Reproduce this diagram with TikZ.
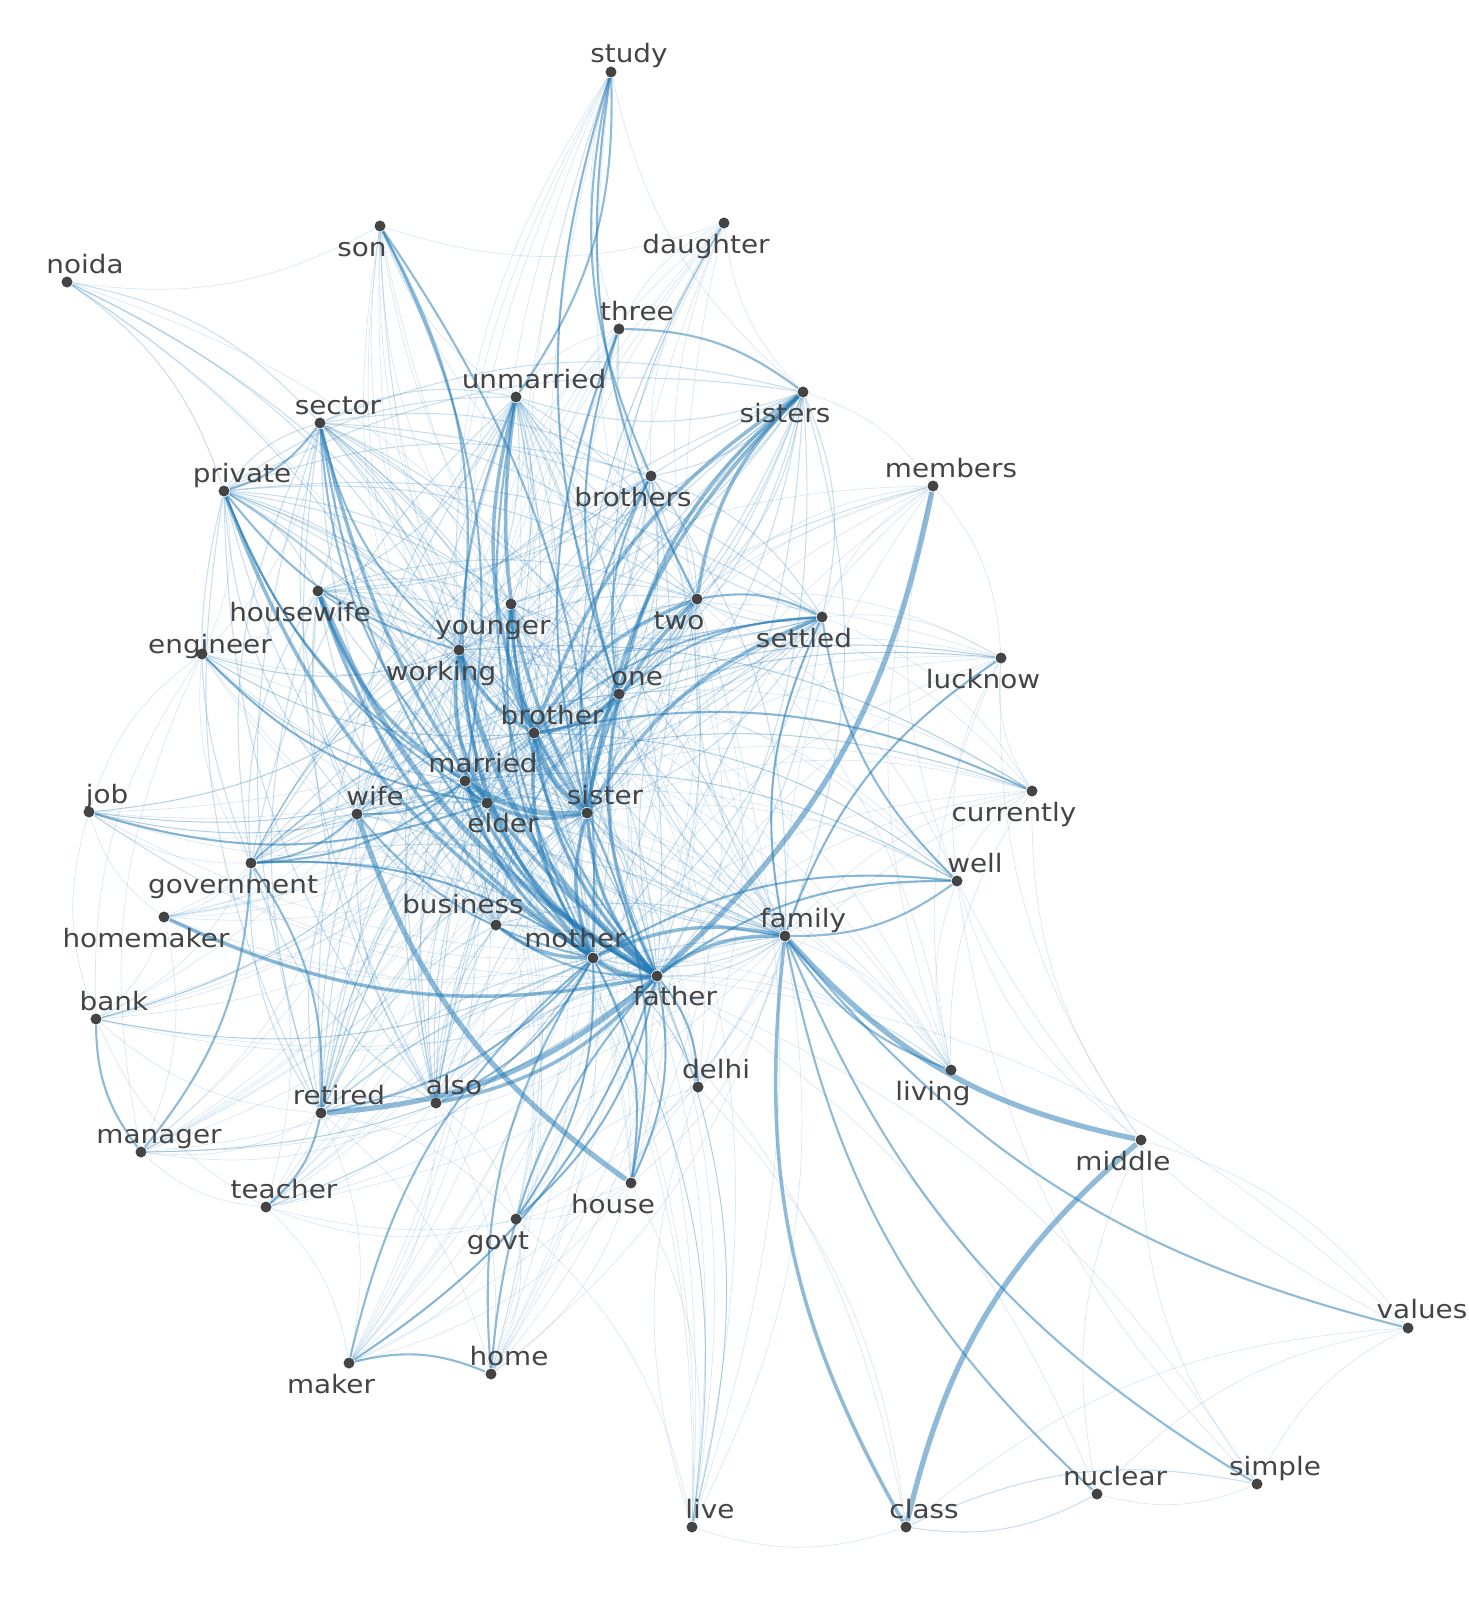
\documentclass[tikz,border=0pt]{standalone}
\usepackage{fontspec}
\newfontfamily\wordfont{DejaVu Sans}[FakeStretch=1.1]
\usepackage{tikz}
\definecolor{edgeblue}{RGB}{31,119,180}
\definecolor{inkgray}{RGB}{68,68,68}
\pgfdeclarelayer{edgelayer}
\pgfdeclarelayer{nodelayer}
\pgfsetlayers{edgelayer,nodelayer,main}
\tikzstyle{word}=[circle,fill=inkgray,draw=none,inner sep=0pt,minimum size=0.11cm]
\tikzstyle{wordlabel}=[inner sep=0pt,anchor=base,text=inkgray,font=\wordfont\fontsize{7.2}{8.6}\selectfont]
\tikzstyle{link}=[draw=edgeblue,bend right=18]
\tikzstyle{hairlink}=[link,line width=0.2pt,opacity=0.17]
\tikzstyle{finelink}=[link,line width=0.3pt,opacity=0.24]
\tikzstyle{midlink}=[link,line width=0.6pt,opacity=0.5]
\tikzstyle{heavylink}=[link,line width=1pt,opacity=0.5]
\tikzstyle{boldlink}=[link,line width=1.5pt,opacity=0.5]
\def\corewords{brother,sister,married,elder,one,two,mother,father,working,younger,housewife,unmarried,settled,family,brothers,sisters,sector,private,wife,business,government,also,retired}
\def\hubwords{brother,sister,married,elder,one,two,mother,father,family,working}
\def\outerwords{study,son,daughter,three,members,engineer,lucknow,job,currently,well,homemaker,bank,delhi,living,manager,teacher,house,govt,maker,home,live}

\begin{document}
\begin{tikzpicture}[x=0.01cm,y=-0.01cm]
	\useasboundingbox (0,0) rectangle (1468,1600);
	\begin{pgfonlayer}{nodelayer}
		% word / x / y / label x / label baseline
		\foreach \w/\x/\y/\lx/\ly in {study/611/72/629/63, son/380/226/362/256,
			daughter/724/223/706/253, noida/67/282/85/273, three/619/329/637/320,
			unmarried/516/397/534/388, sisters/803/392/785/422, sector/320/423/338/414,
			private/224/491/242/482, brothers/651/476/633/506, members/933/486/951/477,
			housewife/318/591/300/621, younger/511/604/493/634, two/697/599/679/629,
			settled/822/617/804/647, engineer/202/654/210/653, working/459/650/441/680,
			lucknow/1001/658/983/688, one/619/694/637/685, brother/534/733/552/724,
			married/465/781/483/772, elder/487/803/503/832, sister/587/813/605/804,
			job/89/812/107/803, wife/357/814/375/805, currently/1032/791/1014/821,
			well/957/881/975/872, government/251/863/233/893, homemaker/164/917/146/947,
			business/496/925/463/913, family/785/936/803/927, mother/593/958/575/947,
			father/657/976/675/1005, bank/96/1019/114/1010, delhi/698/1087/716/1078,
			living/951/1070/933/1100, retired/321/1113/339/1104, also/436/1103/454/1094,
			manager/141/1152/159/1143, middle/1141/1140/1123/1170, teacher/266/1207/284/1198,
			house/631/1183/613/1213, govt/516/1219/498/1249, values/1408/1328/1422/1318,
			maker/349/1363/331/1393, home/491/1374/509/1365, nuclear/1097/1494/1115/1485,
			simple/1257/1484/1275/1475, live/692/1527/710/1518, class/906/1527/924/1518}
		{
			\node [style=word] (\w) at (\x,\y) {};
			\node [style=wordlabel] (\w-text) at (\lx,\ly) {\w};
		}
	\end{pgfonlayer}
	\begin{pgfonlayer}{edgelayer}
		% every pair in the core
		\foreach \a [count=\i] in \corewords {
			\foreach \b [count=\j] in \corewords {
				\ifnum\j>\i \draw [style=finelink] (\a) to (\b); \fi
			}
		}
		% outer words to the hubs
		\foreach \p in \outerwords {
			\foreach \h in \hubwords {
				\draw [style=hairlink] (\p) to (\h);
			}
		}
		\foreach \a/\b in {engineer/job, engineer/bank, engineer/private, engineer/sector,
			engineer/housewife, engineer/government, engineer/manager, job/bank, job/government,
			job/wife, job/homemaker, bank/homemaker, bank/teacher, bank/retired, bank/government,
			manager/teacher, manager/retired, manager/also, manager/wife, manager/homemaker,
			teacher/government, teacher/also, teacher/govt, teacher/wife, teacher/house,
			homemaker/government, homemaker/wife, lucknow/currently, lucknow/settled, lucknow/well,
			lucknow/living, lucknow/members, currently/settled, currently/well, currently/living,
			currently/delhi, members/settled, members/sisters, members/well, members/living,
			well/living, well/middle, well/values, well/simple, lucknow/middle, currently/middle,
			delhi/live, delhi/house, delhi/govt, live/house, live/govt,
			live/class, noida/son, son/daughter, son/unmarried, son/younger,
			daughter/sisters, daughter/brothers, daughter/three, study/three, study/sisters,
			three/brothers, three/unmarried, values/class, values/nuclear, values/simple,
			values/middle, middle/nuclear, middle/simple, nuclear/simple, class/delhi,
			nuclear/father, simple/mother, values/father, class/mother, maker/govt, maker/house,
			home/govt, home/house, maker/teacher, maker/retired, maker/also, home/also,
			home/retired, govt/house, govt/retired, govt/also, elder/noida, one/noida}
			\draw [style=hairlink] (\a) to (\b);
		\foreach \a/\b in {class/nuclear, simple/class, well/brother, well/married, job/married,
			job/working, job/brother, engineer/married, engineer/working, engineer/brother,
			lucknow/brother, lucknow/married, currently/married, currently/working, delhi/mother,
			live/mother, live/father, teacher/mother, manager/father, bank/married, bank/mother,
			sector/noida, private/noida, working/noida, married/noida, brother/noida,
			daughter/sister, daughter/one}
			\draw [style=finelink] (\a) to (\b);
		\foreach \a/\b in {family/values, family/nuclear, family/simple, family/well,
			family/living, settled/well, settled/one, settled/brother, settled/family, settled/two,
			mother/government, retired/mother, home/maker, mother/maker, mother/home, father/home,
			govt/father, govt/mother, house/mother, house/father, unmarried/study, study/brothers,
			study/two, study/one, private/sector, sector/working, sector/married, sector/mother,
			private/working, private/married, private/elder, mother/son, working/son, married/son,
			sisters/three, three/one, three/sister, well/mother,
			well/father, delhi/father, job/elder, engineer/elder, government/wife,
			government/married, wife/married, business/father, brothers/sister, brothers/one,
			unmarried/elder, unmarried/mother, younger/mother, younger/father, lucknow/family,
			currently/brother, maker/father, teacher/retired, manager/government, bank/manager,
			also/mother, wife/mother, retired/government, house/sister}
			\draw [style=midlink] (\a) to (\b);
		\foreach \a/\b in {family/class, also/father, homemaker/father, brother/one,
			one/sister, elder/sister, married/elder, married/mother, brother/mother,
			sister/father, sister/mother, elder/father, housewife/mother, housewife/married,
			working/mother, sisters/one, sisters/two, sisters/brother, sisters/sister, two/sister,
			unmarried/sister, unmarried/brother, family/father, family/mother, business/mother,
			married/father, brother/father, younger/brother, younger/sister, one/father,
			two/brother, settled/sister, working/brother, working/elder, sector/father,
			private/mother}
			\draw [style=heavylink] (\a) to (\b);
		\foreach \a/\b in {family/middle, middle/class, father/members, retired/father,
			mother/father, married/sister, housewife/father, working/father, brother/sister,
			wife/house}
			\draw [style=boldlink] (\a) to (\b);
	\end{pgfonlayer}
\end{tikzpicture}
\end{document}
